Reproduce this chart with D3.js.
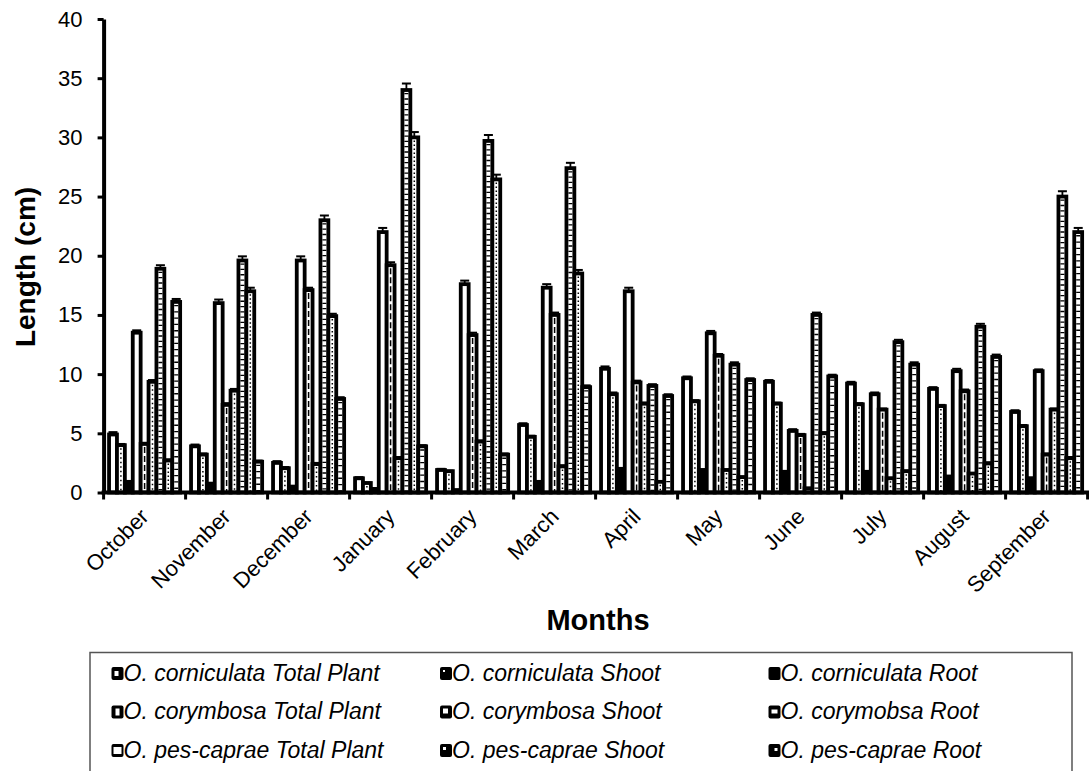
<!DOCTYPE html>
<html>
<head>
<meta charset="utf-8">
<script src="https://cdn.jsdelivr.net/npm/d3@7"></script>
<style>
  body { margin: 0; background: #fff; }
  svg { display: block; }
  svg text { font-family: "Liberation Sans", Arial, sans-serif; fill: #000; }
</style>
</head>
<body>
<svg id="chart" width="1089" height="771"></svg>
<script>
// months on the x axis
const months = ["October","November","December","January","February","March",
                "April","May","June","July","August","September"];

// series names (legend order, 3 per row)
const seriesNames = [
  "O. corniculata Total Plant", "O. corniculata Shoot", "O. corniculata Root",
  "O. corymbosa Total Plant", "O. corymbosa Shoot", "O. corymobsa Root",
  "O. pes-caprae Total Plant", "O. pes-caprae Shoot", "O. pes-caprae Root"
];

// values (cm)
const cornTotal = [4.9, 3.9, 2.5, 1.2, 1.9, 5.7, 10.45, 9.65, 9.35, 9.2, 8.75, 6.8];
const cornShoot = [4.0, 3.2, 2.05, 0.8, 1.8, 4.7, 8.3, 7.7, 7.5, 7.45, 7.3, 5.6];
const cornRoot  = [0.9, 0.75, 0.5, 0.3, 0.2, 0.9, 2.0, 1.9, 1.75, 1.75, 1.35, 1.2];
const coryTotal = [13.5, 16.0, 19.6, 22.0, 17.6, 17.3, 17.0, 13.45, 5.2, 8.3, 10.25, 10.25];
const coryShoot = [4.1, 7.4, 17.1, 19.2, 13.3, 15.0, 9.3, 11.55, 4.85, 7.0, 8.55, 3.2];
const coryRoot  = [9.35, 8.6, 2.4, 2.9, 4.3, 2.2, 7.5, 1.9, 0.35, 1.2, 1.6, 7.0];
const pesTotal  = [18.9, 19.6, 23.0, 34.0, 29.7, 27.4, 9.0, 10.8, 15.0, 12.7, 14.0, 25.0];
const pesShoot  = [2.7, 17.0, 14.9, 30.0, 26.45, 18.5, 0.9, 1.3, 5.0, 1.8, 2.45, 2.9];
const pesRoot   = [16.1, 2.6, 7.9, 3.9, 3.2, 8.9, 8.15, 9.5, 9.8, 10.8, 11.45, 22.0];

// error bar half-widths (estimated)
const cornTotalErr = [0.2, 0.15, 0.15, 0.1, 0.1, 0.15, 0.2, 0.15, 0.15, 0.15, 0.15, 0.15];
const cornShootErr = [0.1, 0.1, 0.1, 0.05, 0.05, 0.1, 0.15, 0.1, 0.1, 0.1, 0.1, 0.1];
const cornRootErr  = [0.05, 0.05, 0.05, 0.05, 0.05, 0.05, 0.05, 0.05, 0.05, 0.05, 0.05, 0.05];
const coryTotalErr = [0.2, 0.3, 0.35, 0.35, 0.3, 0.3, 0.3, 0.2, 0.15, 0.15, 0.2, 0.15];
const coryShootErr = [0.1, 0.15, 0.2, 0.25, 0.2, 0.2, 0.15, 0.15, 0.1, 0.1, 0.15, 0.1];
const coryRootErr  = [0.15, 0.15, 0.1, 0.1, 0.1, 0.1, 0.1, 0.05, 0.05, 0.05, 0.05, 0.1];
const pesTotalErr  = [0.3, 0.35, 0.4, 0.55, 0.5, 0.45, 0.15, 0.2, 0.2, 0.2, 0.25, 0.45];
const pesShootErr  = [0.1, 0.3, 0.2, 0.45, 0.4, 0.3, 0.05, 0.05, 0.1, 0.05, 0.1, 0.1];
const pesRootErr   = [0.25, 0.1, 0.15, 0.1, 0.1, 0.15, 0.15, 0.15, 0.15, 0.2, 0.2, 0.35];

const yTicks = [0, 5, 10, 15, 20, 25, 30, 35, 40];

const seriesValues = [cornTotal, cornShoot, cornRoot, coryTotal, coryShoot, coryRoot, pesTotal, pesShoot, pesRoot];
const seriesErrors = [cornTotalErr, cornShootErr, cornRootErr, coryTotalErr, coryShootErr, coryRootErr, pesTotalErr, pesShootErr, pesRootErr];

// look of the inside of each bar (kept apart from the data)
const barLook = [
  {fill: "#fff", w: 0},
  {fill: "#fff", w: 1.5, dash: "1.5 3"},
  {fill: "#000", w: 0},
  {fill: "#fff", w: 0},
  {fill: "#fff", w: 1.5, dash: "6 3"},
  {fill: "#fff", w: 1.5, dash: "1.5 3"},
  {fill: "#fff", w: 4, dash: "1.3 4"},
  {fill: "#fff", w: 1.5, dash: "1.5 2.5"},
  {fill: "#fff", w: 4, dash: "1.3 5"}
];
// white marks inside the legend keys [x, y, w, h] on a 12x13 key
const keyMarks = [
  [3, 4, 4, 5], [3, 3, 2, 2], null,
  [4, 3, 4, 7], [3, 3, 5, 5], [3, 4, 6, 4],
  [2, 3, 8, 7], [3, 3, 3, 3], [6, 4, 3, 3]
];

const svg = d3.select("#chart");
const plot = {left: 103.6, right: 1087.6, top: 19, bottom: 492.5};

const x = d3.scaleBand().domain(months).range([plot.left, plot.right]).padding(0);
const xs = d3.scaleBand().domain(d3.range(seriesNames.length))
  .range([0, x.bandwidth()]).paddingInner(0).paddingOuter(0.69);
const y = d3.scaleLinear().domain([0, 40]).range([plot.bottom, plot.top]);

// bars, drawn series by series
seriesValues.forEach((vals, si) => {
  const look = barLook[si];
  const g = svg.append("g").attr("class", "series s" + si);
  const rows = months.map((m, i) => ({m, v: vals[i], e: seriesErrors[si][i]}));

  g.selectAll("rect").data(rows).join("rect")
    .attr("x", d => x(d.m) + xs(si))
    .attr("y", d => y(d.v))
    .attr("width", xs.bandwidth())
    .attr("height", d => y(0) - y(d.v))
    .attr("fill", look.fill)
    .attr("stroke", "#000")
    .attr("stroke-width", 3.8);

  if (look.w > 0) {
    g.selectAll("line.inner").data(rows.filter(d => y(0) - y(d.v) > 6)).join("line")
      .attr("class", "inner")
      .attr("x1", d => x(d.m) + xs(si) + xs.bandwidth() / 2)
      .attr("x2", d => x(d.m) + xs(si) + xs.bandwidth() / 2)
      .attr("y1", d => y(d.v) + 3)
      .attr("y2", d => y(0) - 1)
      .attr("stroke", "#000")
      .attr("stroke-width", look.w)
      .attr("stroke-dasharray", look.dash);
  }
});

// error bars (upper part, the lower one is inside the bar)
seriesValues.forEach((vals, si) => {
  const rows = months.map((m, i) => ({m, v: vals[i], e: seriesErrors[si][i]}));
  const g = svg.append("g").attr("class", "err");
  const cx = d => x(d.m) + xs(si) + xs.bandwidth() / 2;
  g.selectAll("line.stem").data(rows).join("line")
    .attr("class", "stem")
    .attr("x1", cx).attr("x2", cx)
    .attr("y1", d => y(d.v)).attr("y2", d => y(d.v + d.e))
    .attr("stroke", "#000").attr("stroke-width", 1.8);
  g.selectAll("line.cap").data(rows).join("line")
    .attr("class", "cap")
    .attr("x1", d => cx(d) - 4.5).attr("x2", d => cx(d) + 4.5)
    .attr("y1", d => y(d.v + d.e)).attr("y2", d => y(d.v + d.e))
    .attr("stroke", "#000").attr("stroke-width", 2);
});

// y axis
const yAxis = svg.append("g")
  .attr("transform", `translate(${plot.left},0)`)
  .call(d3.axisLeft(y).tickValues(yTicks).tickSize(6).tickSizeOuter(0).tickPadding(15));
yAxis.attr("font-family", null).attr("font-size", null);
yAxis.select(".domain").attr("stroke-width", 4).attr("stroke", "#000");
yAxis.selectAll(".tick line").attr("stroke-width", 3);
yAxis.selectAll(".tick text").attr("font-size", 22).attr("fill", "#000");

// x axis: ticks at category boundaries, labels at centres
const xAxis = svg.append("g").attr("transform", `translate(0,${plot.bottom})`);
xAxis.append("line")
  .attr("x1", plot.left - 2).attr("x2", 1089)
  .attr("stroke", "#000").attr("stroke-width", 4);
xAxis.selectAll("line.tk").data(months.map(m => x(m)).concat([plot.right])).join("line")
  .attr("class", "tk")
  .attr("x1", d => d).attr("x2", d => d)
  .attr("y1", 0).attr("y2", 7)
  .attr("stroke", "#000").attr("stroke-width", 3);
xAxis.selectAll("text").data(months).join("text")
  .attr("transform", m => `translate(${x(m) + x.bandwidth() / 2},${20}) rotate(-45)`)
  .attr("text-anchor", "end")
  .attr("dy", "0.35em")
  .attr("font-size", 22)
  .text(m => m);

// axis titles
svg.append("text")
  .attr("transform", "translate(35,267) rotate(-90)")
  .attr("text-anchor", "middle")
  .attr("font-size", 28).attr("font-weight", "bold")
  .text("Length (cm)");
svg.append("text")
  .attr("x", 598).attr("y", 630)
  .attr("text-anchor", "middle")
  .attr("font-size", 29).attr("font-weight", "bold")
  .text("Months");

// legend
const legend = svg.append("g");
legend.append("rect")
  .attr("x", 90).attr("y", 652.5).attr("width", 982).attr("height", 140)
  .attr("fill", "none").attr("stroke", "#555").attr("stroke-width", 1.5);
const colX = [111.5, 440, 768.5];
const rowY = [680.5, 719, 757.5];
const items = legend.selectAll("g.item").data(seriesNames).join("g")
  .attr("class", "item")
  .attr("transform", (d, i) => `translate(${colX[i % 3]},${rowY[Math.floor(i / 3)]})`);
items.append("rect")
  .attr("x", 0).attr("y", -13.5).attr("width", 12).attr("height", 13)
  .attr("rx", 2).attr("fill", "#000");
items.each(function(d, i) {
  const k = keyMarks[i];
  if (!k) return;
  d3.select(this).append("rect")
    .attr("x", k[0]).attr("y", -13.5 + k[1])
    .attr("width", k[2]).attr("height", k[3])
    .attr("fill", "#fff");
});
items.append("text")
  .attr("x", 12).attr("y", 0)
  .attr("font-size", 23).attr("font-style", "italic")
  .text(d => d);
</script>
</body>
</html>
